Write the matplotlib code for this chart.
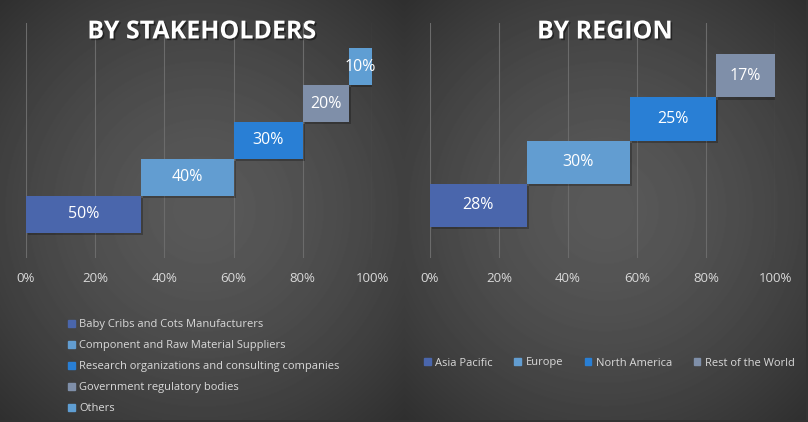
import numpy as np
import matplotlib.pyplot as plt
from matplotlib import patheffects as pe
from matplotlib.patches import Patch

# === DATOS ===
stake_labels = ['Baby Cribs and Cots Manufacturers',
                'Component and Raw Material Suppliers',
                'Research organizations and consulting companies',
                'Government regulatory bodies',
                'Others']
stake_values = [50, 40, 30, 20, 10]
stake_colors = ['#4a66ac', '#629dd1', '#297fd5', '#7f8fa9', '#5f9ed3']

region_labels = ['Asia Pacific', 'Europe', 'North America', 'Rest of the World']
region_values = [28, 30, 25, 17]
region_colors = ['#4a66ac', '#629dd1', '#297fd5', '#7f8fa9']

tick_vals = [0, 0.2, 0.4, 0.6, 0.8, 1.0]
tick_labels = ['0%', '20%', '40%', '60%', '80%', '100%']

plt.rcParams['font.family'] = ['Open Sans', 'DejaVu Sans']

W, H = 808, 422
fig = plt.figure(figsize=(W / 100, H / 100), dpi=100)
fig.patch.set_facecolor('#333333')


def px(x0, y0, x1, y1):
    # rectangulo en pixeles -> fraccion de figura
    return [x0 / W, 1 - y1 / H, (x1 - x0) / W, (y1 - y0) / H]


def background(rect):
    ax = fig.add_axes(px(*rect))
    w = rect[2] - rect[0]
    h = rect[3] - rect[1]
    yy, xx = np.mgrid[0:h, 0:w]
    r = np.hypot(xx - w * 0.5, yy - h * 0.5) / np.hypot(w / 2, h / 2)
    v = (89 - 42 * r ** 1.5) / 255
    ax.imshow(v, cmap='gray', vmin=0, vmax=1, aspect='auto',
              interpolation='bilinear')
    ax.axis('off')


def waterfall(rect, labels, values, colors, margin):
    ax = fig.add_axes(px(*rect))
    ax.set_facecolor('none')
    shares = np.array(values) / sum(values)
    starts = np.concatenate([[0], np.cumsum(shares)[:-1]])
    for i in range(len(values)):
        b = ax.barh(i, shares[i], left=starts[i], height=1, color=colors[i],
                    zorder=3)
        b[0].set_path_effects([pe.withSimplePatchShadow(offset=(1.5, -1.5),
                                                        shadow_rgbFace='k',
                                                        alpha=0.25)])
        ax.text(starts[i] + shares[i] / 2, i, f'{values[i]}%', ha='center',
                va='center', color='white', fontsize=11.5, zorder=4)
    n = len(values)
    ax.set_xlim(0, 1)
    ax.set_ylim(-0.5 - margin, n - 0.5 + margin)
    ax.set_xticks(tick_vals, tick_labels)
    ax.set_yticks([])
    ax.grid(axis='x', color='#6b6b6b', lw=0.8, zorder=0)
    ax.tick_params(axis='x', length=0, pad=10, colors='#d9d9d9', labelsize=9.5)
    for s in ax.spines.values():
        s.set_visible(False)
    return [Patch(color=c) for c in colors]


background((0, 0, 404, 420))
background((404, 0, 806, 420))

h1 = waterfall((26, 23, 372, 258), stake_labels, stake_values, stake_colors, 0.68)
h2 = waterfall((430, 23, 775, 258), region_labels, region_values, region_colors, 0.73)

for x, t in [(202, 'BY STAKEHOLDERS'), (605, 'BY REGION')]:
    fig.text(x / W, 1 - 32 / H, t, ha='center', va='center', fontsize=18,
             fontweight='bold', color='white',
             path_effects=[pe.SimplePatchShadow(offset=(1.2, -1.2),
                                                shadow_rgbFace='k', alpha=0.45),
                           pe.Normal()])

fig.legend(h1, stake_labels, loc='upper left', bbox_to_anchor=(58 / W, 1 - 309 / H),
           frameon=False, labelcolor='#d9d9d9', fontsize=8, handlelength=0.6,
           handleheight=0.6, handletextpad=0.4, labelspacing=0.9)
fig.legend(h2, region_labels, loc='center left', bbox_to_anchor=(414 / W, 1 - 363 / H),
           ncol=4, frameon=False, labelcolor='#d9d9d9', fontsize=8,
           handlelength=0.6, handleheight=0.6, handletextpad=0.4,
           columnspacing=1.95)

fig.savefig('out.png', dpi=100, facecolor=fig.get_facecolor())
